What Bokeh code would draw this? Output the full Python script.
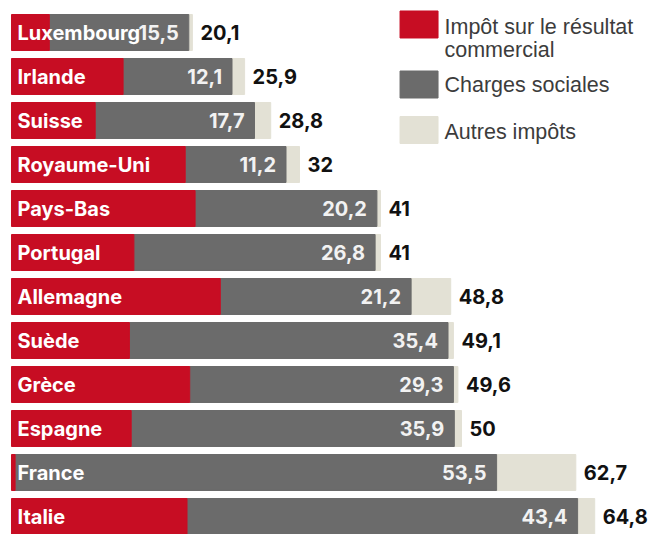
from bokeh.plotting import figure
from bokeh.models import ColumnDataSource, Range1d
from bokeh.core.properties import value
from bokeh.embed import file_html
from bokeh.resources import INLINE

# ---- data ----
countries = ["Luxembourg", "Irlande", "Suisse", "Royaume-Uni", "Pays-Bas", "Portugal",
             "Allemagne", "Suède", "Grèce", "Espagne", "France", "Italie"]
impot_resultat = [4.2, 12.4, 9.3, 19.3, 20.4, 13.6, 23.2, 13.1, 19.8, 13.3, 0.4, 19.5]
charges_sociales = [15.5, 12.1, 17.7, 11.2, 20.2, 26.8, 21.2, 35.4, 29.3, 35.9, 53.5, 43.4]
totals = [20.1, 25.9, 28.8, 32, 41, 41, 48.8, 49.1, 49.6, 50, 62.7, 64.8]
autres_impots = [round(t - a - b, 1) for t, a, b in zip(totals, impot_resultat, charges_sociales)]
legend_labels = ["Impôt sur le résultat\ncommercial", "Charges sociales", "Autres impôts"]


def fr(v):
    return ("%g" % v).replace(".", ",")


RED = "#c70d23"
GRAY = "#6b6b6b"
BEIGE = "#e3e1d5"
FONT = "Inter"

rows = list(range(len(countries)))
red_end = impot_resultat
gray_end = [a + b for a, b in zip(impot_resultat, charges_sociales)]
src = ColumnDataSource(dict(
    y=rows, country=countries, red_end=red_end, gray_end=gray_end, total=totals,
    gray_label=[fr(v) for v in charges_sociales], total_label=[fr(v) for v in totals],
    zero=[0] * len(rows),
))

p = figure(width=652, height=534, output_backend="svg", toolbar_location=None,
           x_range=Range1d(-1.222, 71.22), y_range=Range1d(11.409, -0.7273),
           min_border=0, min_border_left=0, min_border_right=0,
           min_border_top=0, min_border_bottom=0)
p.axis.visible = False
p.grid.visible = False
p.outline_line_color = None
p.background_fill_color = "white"

bh = 0.818
p.hbar(y="y", left="gray_end", right="total", height=bh, color=BEIGE, source=src)
p.hbar(y="y", left="red_end", right="gray_end", height=bh, color=GRAY, source=src)
p.hbar(y="y", left="zero", right="red_end", height=bh, color=RED, source=src)

p.text(x="zero", y="y", text="country", x_offset=6, text_align="left", text_baseline="middle",
       text_color="white", text_font=value(FONT), text_font_style="bold",
       text_font_size="20px", source=src)
p.text(x="gray_end", y="y", text="gray_label", x_offset=-10, text_align="right",
       text_baseline="middle", text_color="#f2f2f2", text_font=value(FONT),
       text_font_style="bold", text_font_size="20px", source=src)
p.text(x="total", y="y", text="total_label", x_offset=8, text_align="left",
       text_baseline="middle", text_color="#111111", text_font=value(FONT),
       text_font_style="bold", text_font_size="20px", source=src)

# ---- legend (drawn manually) ----
leg_colors = [RED, GRAY, BEIGE]
leg_x = [45.28] * 3
leg_y = [-0.182, 1.182, 2.216]
p.rect(x=leg_x, y=leg_y, width=38, height=27, width_units="screen", height_units="screen",
       color=leg_colors)
text_x0 = 48.11
first_centers = [-0.125, 1.182, 2.25]
line_step = 0.523
lx, ly, lt = [], [], []
for lab, c in zip(legend_labels, first_centers):
    for k, line in enumerate(lab.split("\n")):
        lx.append(text_x0)
        ly.append(c + k * line_step)
        lt.append(line)
p.text(x=lx, y=ly, text=lt, text_align="left", text_baseline="middle",
       text_color="#3c3c3c", text_font=value("Liberation Sans"), text_font_size="21.5px")

open("out.html", "w").write(file_html(p, INLINE))
